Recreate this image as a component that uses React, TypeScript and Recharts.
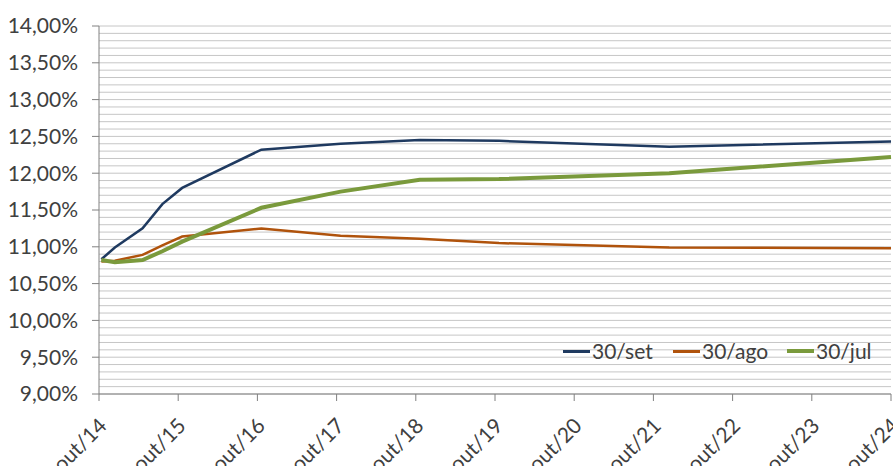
import React from 'react'
import {
  CartesianGrid,
  Line,
  LineChart,
  XAxis,
  YAxis,
} from 'recharts'

// years after out/14
const dates = [0.03, 0.2, 0.55, 0.8, 1.05, 2.05, 3.05, 4.05, 5.05, 7.2, 10]
const set30 = [10.83, 10.99, 11.25, 11.58, 11.8, 12.32, 12.4, 12.45, 12.44, 12.36, 12.43]
const ago30 = [10.8, 10.81, 10.89, 11.02, 11.14, 11.25, 11.15, 11.11, 11.05, 10.99, 10.98]
const jul30 = [10.82, 10.79, 10.82, 10.94, 11.07, 11.53, 11.75, 11.91, 11.92, 12.0, 12.22]

const xTickLabels = [
  'out/14', 'out/15', 'out/16', 'out/17', 'out/18', 'out/19',
  'out/20', 'out/21', 'out/22', 'out/23', 'out/24',
]
const yTicks = [9, 9.5, 10, 10.5, 11, 11.5, 12, 12.5, 13, 13.5, 14]
const gridValues = Array.from({ length: 51 }, (_, i) => 9 + i * 0.1)

const series = [
  { key: 'set', name: '30/set', color: '#1f3a60', width: 2.5 },
  { key: 'ago', name: '30/ago', color: '#b0530c', width: 2.5 },
  { key: 'jul', name: '30/jul', color: '#7a9a3c', width: 4 },
]

const data = dates.map((t, i) => ({
  t,
  set: set30[i],
  ago: ago30[i],
  jul: jul30[i],
}))

const FONT = 'Lato, "Open Sans", sans-serif'
const TEXT = '#404040'
const AXIS = '#808080'

function XTick({ x, y, payload }: any) {
  return (
    <g transform={`translate(${x},${y})`}>
      <text
        x={3}
        y={18}
        transform="rotate(-45, 3, 18)"
        textAnchor="end"
        dominantBaseline="central"
        fill={TEXT}
        fontSize={21}
        fontFamily={FONT}
      >
        {xTickLabels[payload.value]}
      </text>
    </g>
  )
}

const legendLeft = [563, 673, 787]

// legend sits over the plot, so it is drawn outside the chart layout
function ChartLegend() {
  return (
    <div style={{ position: 'absolute', left: 0, top: 338, width: 893, height: 26 }}>
      {series.map((s, i) => (
        <div
          key={s.key}
          style={{
            position: 'absolute',
            left: legendLeft[i],
            top: 0,
            display: 'flex',
            alignItems: 'center',
            fontFamily: FONT,
            fontSize: 21,
            color: TEXT,
            lineHeight: '26px',
          }}
        >
          <span
            style={{
              display: 'inline-block',
              width: 27,
              height: s.width > 3 ? 4 : 3,
              background: s.color,
              marginRight: 2,
            }}
          />
          {s.name}
        </div>
      ))}
    </div>
  )
}

export default function App() {
  return (
    <div style={{ position: 'absolute', left: 0, top: 0, width: 893, height: 466, background: '#fff' }}>
      <LineChart
        width={893}
        height={466}
        data={data}
        margin={{ top: 26, right: 2, left: 0, bottom: 0 }}
      >
        <CartesianGrid
          vertical={false}
          horizontalValues={gridValues}
          stroke="#c6c6c6"
        />
        <XAxis
          dataKey="t"
          type="number"
          domain={[0, 10]}
          ticks={xTickLabels.map((_, i) => i)}
          interval={0}
          height={72}
          tickSize={7}
          tick={<XTick />}
          axisLine={{ stroke: AXIS }}
          tickLine={{ stroke: AXIS }}
        />
        <YAxis
          type="number"
          domain={[9, 14]}
          ticks={yTicks}
          interval={0}
          width={99}
          tickSize={7}
          tickMargin={14}
          tickFormatter={(v: number) => `${v.toFixed(2).replace('.', ',')}%`}
          tick={{ fill: TEXT, fontSize: 21, fontFamily: FONT }}
          axisLine={{ stroke: AXIS }}
          tickLine={{ stroke: AXIS }}
        />
        {series.map((s) => (
          <Line
            key={s.key}
            type="linear"
            dataKey={s.key}
            name={s.name}
            stroke={s.color}
            strokeWidth={s.width}
            dot={false}
            isAnimationActive={false}
          />
        ))}
      </LineChart>
      <ChartLegend />
    </div>
  )
}
